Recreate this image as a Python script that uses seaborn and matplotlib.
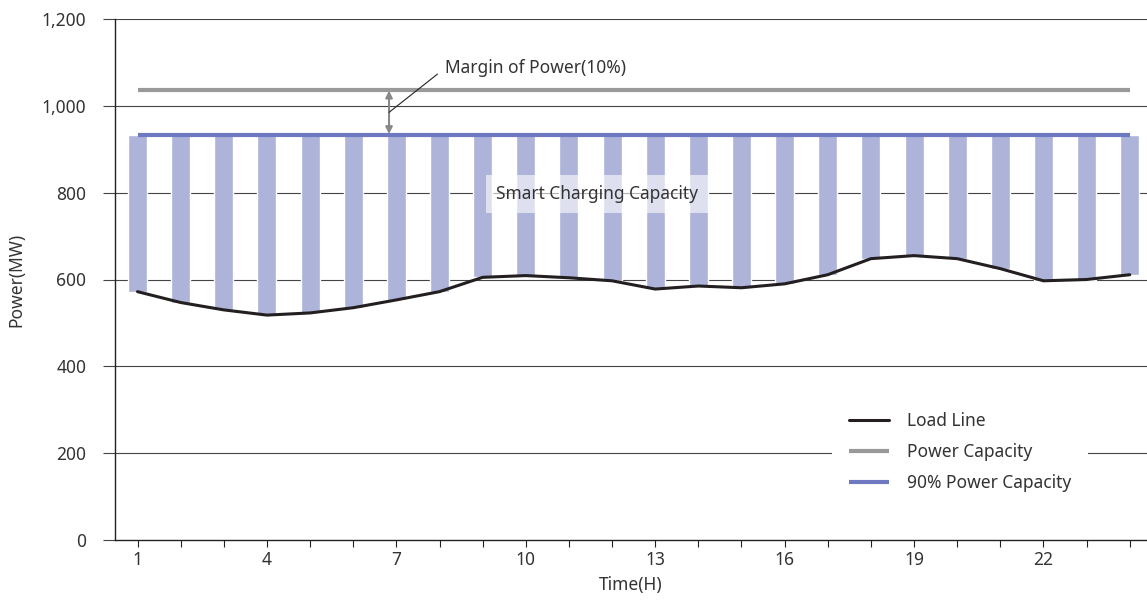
import numpy as np
import pandas as pd
import matplotlib
matplotlib.use('Agg')
import matplotlib.pyplot as plt
import seaborn as sns

# hourly load (MW)
hours = list(range(1, 25))
load = [572, 547, 530, 518, 523, 535, 553, 572, 605, 609, 604, 597,
        578, 585, 581, 590, 611, 648, 655, 648, 625, 597, 600, 611]
power_cap = 1037
cap_90 = 933

tick_labels = {1: '1', 4: '4', 7: '7', 10: '10', 13: '13', 16: '16', 19: '19', 22: '22'}
y_ticks = [0, 200, 400, 600, 800, 1000, 1200]

sns.set_theme(style='white')
plt.rcParams['font.family'] = ['Noto Sans', 'DejaVu Sans']
txt = '#333333'

df = pd.DataFrame({'hour': hours, 'load': load,
                   'cap': [power_cap] * len(hours), 'cap90': [cap_90] * len(hours)})

fig = plt.figure(figsize=(11.47, 6.02), dpi=100)
ax = fig.add_axes([115 / 1147, 1 - 540 / 602, 1 - 115 / 1147, (540 - 19) / 602])

# grid
for y in y_ticks[1:]:
    ax.axhline(y, color='#444444', lw=0.8, zorder=0)

# smart charging bars (load -> 90% capacity)
ax.bar(df.hour, df.cap90 - df.load, bottom=df.load, width=0.44,
       color='#aeb3da', zorder=2)

sns.lineplot(data=df, x='hour', y='cap', color='#999999', lw=3,
             solid_capstyle='butt', ax=ax, zorder=3, label='Power Capacity')
sns.lineplot(data=df, x='hour', y='cap90', color='#6e79c2', lw=3,
             solid_capstyle='butt', ax=ax, zorder=3, label='90% Power Capacity')
sns.lineplot(data=df, x='hour', y='load', color='#231f20', lw=2.2,
             ax=ax, zorder=4, label='Load Line')

# margin arrow
ax.annotate('', xy=(6.83, power_cap - 2), xytext=(6.83, cap_90 + 2),
            arrowprops=dict(arrowstyle='<|-|>', color='#888888', lw=1.5,
                            mutation_scale=10, shrinkA=0, shrinkB=0), zorder=5)
ax.annotate('Margin of Power(10%)', xy=(6.83, 985), xytext=(8.13, 1087),
            fontsize=12.5, color=txt, va='center', ha='left',
            arrowprops=dict(arrowstyle='-', color='#222222', lw=0.8,
                            relpos=(0, 0.5), shrinkA=4, shrinkB=0), zorder=5)

ax.text(11.65, 797, 'Smart Charging Capacity', fontsize=12.5, color=txt,
        ha='center', va='center', zorder=5,
        bbox=dict(boxstyle='square,pad=0.6', fc='white', ec='none', alpha=0.6))

ax.set_xlim(0.478, 24.40)
ax.set_ylim(0, 1200)
ax.set_xticks(hours)
ax.set_xticklabels([tick_labels.get(h, '') for h in hours])
ax.set_yticks(y_ticks)
ax.set_yticklabels([f'{v:,}' for v in y_ticks])
ax.tick_params(axis='y', length=8.6, width=0.8, color='#444444', direction='out',
               pad=12, labelsize=12.5, labelcolor=txt, left=True)
ax.tick_params(axis='x', length=5, width=0.8, color='#222222', direction='out',
               pad=3, labelsize=12.5, labelcolor=txt, bottom=True)
for s in ['top', 'right']:
    ax.spines[s].set_visible(False)
for s in ['left', 'bottom']:
    ax.spines[s].set_color('#222222')
    ax.spines[s].set_linewidth(1)
ax.set_xlabel('Time(H)', fontsize=12.5, color=txt, labelpad=5)
ax.set_ylabel('Power(MW)', fontsize=12.5, color=txt, labelpad=12)

handles, labels = ax.get_legend_handles_labels()
order = [labels.index('Load Line'), labels.index('Power Capacity'),
         labels.index('90% Power Capacity')]
leg = ax.legend([handles[i] for i in order], [labels[i] for i in order],
                loc='center', bbox_to_anchor=(0.819, 0.169), frameon=True,
                fontsize=12.5, handlelength=2.3, handletextpad=1.0,
                labelspacing=0.75, borderpad=1.0, fancybox=False)
leg.get_frame().set_facecolor('white')
leg.get_frame().set_edgecolor('none')
leg.get_frame().set_alpha(1)
for t in leg.get_texts():
    t.set_color(txt)

fig.savefig('out.png', dpi=100)
